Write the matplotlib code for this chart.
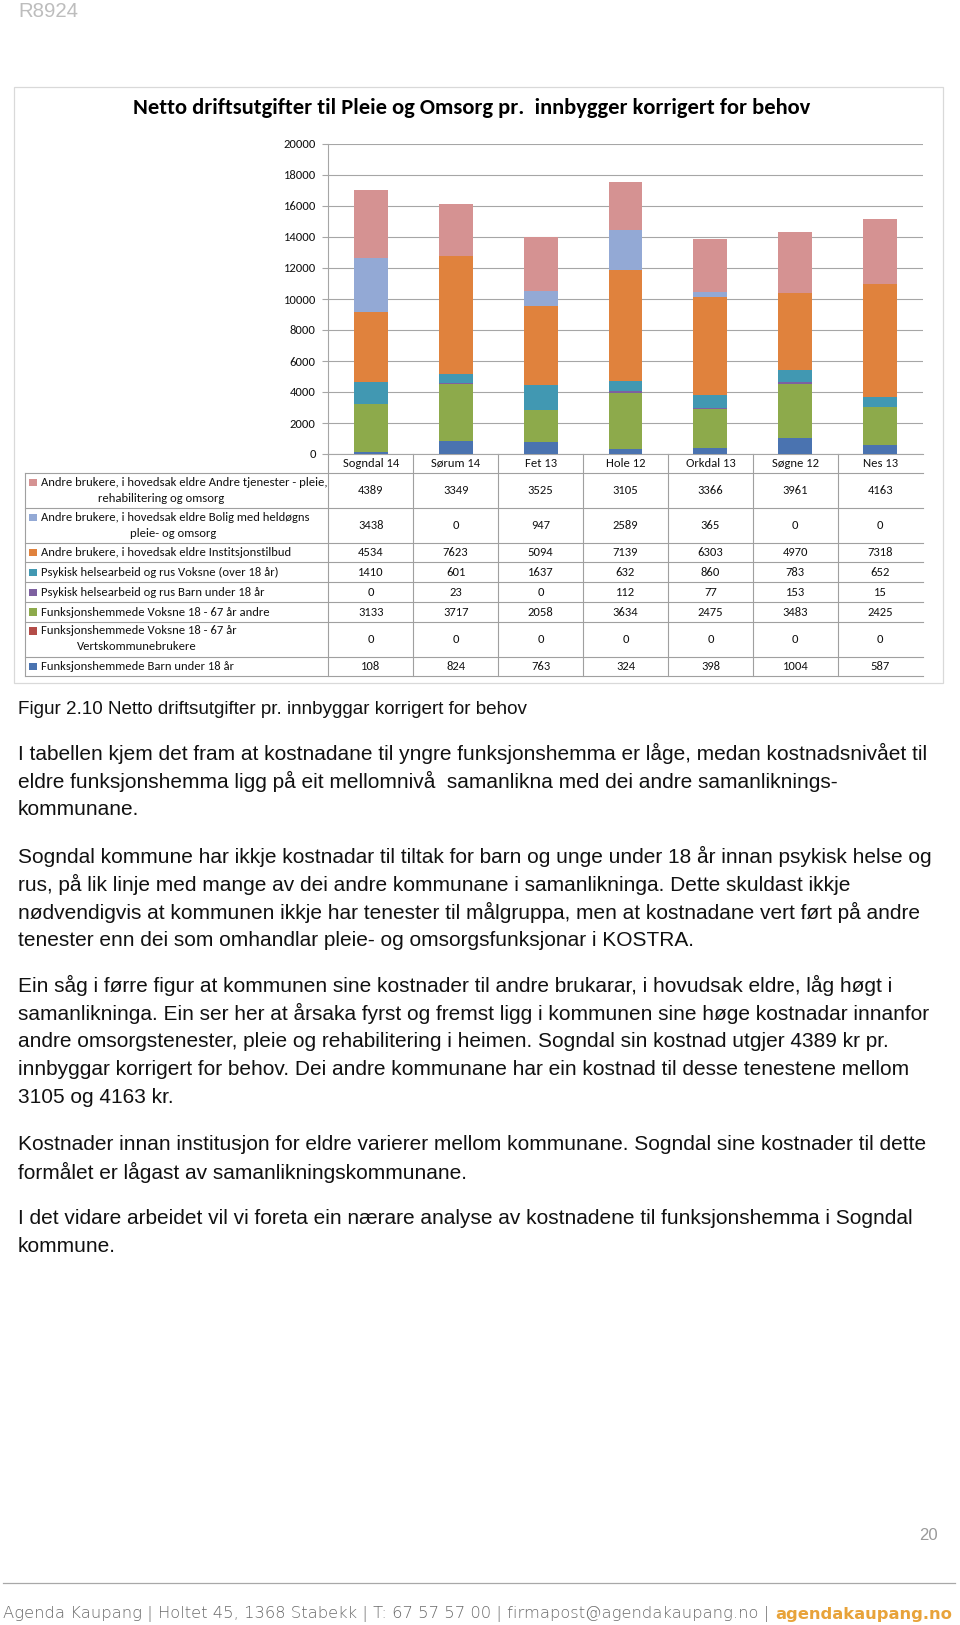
import matplotlib
matplotlib.use('Agg')
import matplotlib.pyplot as plt
from matplotlib import font_manager as fm
from matplotlib.patches import Rectangle

# ---------------- data ----------------
categories = ["Sogndal 14", "Sørum 14", "Fet 13", "Hole 12", "Orkdal 13", "Søgne 12", "Nes 13"]

andre_tjenester = [4389, 3349, 3525, 3105, 3366, 3961, 4163]
bolig = [3438, 0, 947, 2589, 365, 0, 0]
institusjon = [4534, 7623, 5094, 7139, 6303, 4970, 7318]
psyk_voksne = [1410, 601, 1637, 632, 860, 783, 652]
psyk_barn = [0, 23, 0, 112, 77, 153, 15]
funk_andre = [3133, 3717, 2058, 3634, 2475, 3483, 2425]
funk_verts = [0, 0, 0, 0, 0, 0, 0]
funk_barn = [108, 824, 763, 324, 398, 1004, 587]

# table order (top to bottom); label lines
series_labels = [
    ["Andre brukere, i hovedsak eldre Andre tjenester - pleie,", "rehabilitering og omsorg"],
    ["Andre brukere, i hovedsak eldre Bolig med heldøgns", "pleie- og omsorg"],
    ["Andre brukere, i hovedsak eldre Institsjonstilbud"],
    ["Psykisk helsearbeid og rus Voksne (over 18 år)"],
    ["Psykisk helsearbeid og rus Barn under 18 år"],
    ["Funksjonshemmede Voksne 18 - 67 år andre"],
    ["Funksjonshemmede Voksne 18 - 67 år", "Vertskommunebrukere"],
    ["Funksjonshemmede Barn under 18 år"],
]
series_values = [andre_tjenester, bolig, institusjon, psyk_voksne,
                 psyk_barn, funk_andre, funk_verts, funk_barn]
series_colors = ['#D59292', '#93A9D5', '#E0823D', '#4198B2',
                 '#7D60A0', '#8DAA4B', '#B34C48', '#4A73B0']

y_ticks = list(range(0, 20001, 2000))

title = "Netto driftsutgifter til Pleie og Omsorg pr.  innbygger korrigert for behov"
caption = "Figur 2.10 Netto driftsutgifter pr. innbyggar korrigert for behov"
paragraphs = [
    ["I tabellen kjem det fram at kostnadane til yngre funksjonshemma er låge, medan kostnadsnivået til",
     "eldre funksjonshemma ligg på eit mellomnivå  samanlikna med dei andre samanliknings-",
     "kommunane."],
    ["Sogndal kommune har ikkje kostnadar til tiltak for barn og unge under 18 år innan psykisk helse og",
     "rus, på lik linje med mange av dei andre kommunane i samanlikninga. Dette skuldast ikkje",
     "nødvendigvis at kommunen ikkje har tenester til målgruppa, men at kostnadane vert ført på andre",
     "tenester enn dei som omhandlar pleie- og omsorgsfunksjonar i KOSTRA."],
    ["Ein såg i førre figur at kommunen sine kostnader til andre brukarar, i hovudsak eldre, låg høgt i",
     "samanlikninga. Ein ser her at årsaka fyrst og fremst ligg i kommunen sine høge kostnadar innanfor",
     "andre omsorgstenester, pleie og rehabilitering i heimen. Sogndal sin kostnad utgjer 4389 kr pr.",
     "innbyggar korrigert for behov. Dei andre kommunane har ein kostnad til desse tenestene mellom",
     "3105 og 4163 kr."],
    ["Kostnader innan institusjon for eldre varierer mellom kommunane. Sogndal sine kostnader til dette",
     "formålet er lågast av samanlikningskommunane."],
    ["I det vidare arbeidet vil vi foreta ein nærare analyse av kostnadene til funksjonshemma i Sogndal",
     "kommune."],
]
footer_main = "Agenda Kaupang | Holtet 45, 1368 Stabekk | T: 67 57 57 00 | firmapost@agendakaupang.no | "
footer_bold = "agendakaupang.no"

# ---------------- fonts ----------------
def avail(name):
    try:
        fm.findfont(fm.FontProperties(family=name), fallback_to_default=False)
        return True
    except Exception:
        return False

CAL = next(f for f in ['Carlito', 'Lato', 'Open Sans', 'DejaVu Sans'] if avail(f))
ARIAL = next(f for f in ['Liberation Sans', 'Arial', 'DejaVu Sans'] if avail(f))
GOTH = next(f for f in ['DejaVu Sans', 'Lato'] if avail(f))

W, H = 960, 1625
fig = plt.figure(figsize=(9.6, 16.25), dpi=100)
fig.patch.set_facecolor('white')
page = fig.add_axes([0, 0, 1, 1])
page.set_xlim(0, W)
page.set_ylim(H, 0)
page.axis('off')
renderer = fig.canvas.get_renderer()
PXS = W / (fig.get_figwidth() * fig.dpi)


def fit(t, target):
    w = t.get_window_extent(renderer).width
    t.set_fontsize(t.get_fontsize() * target / w)
    return t.get_fontsize()


# ---------------- header text ----------------
t = page.text(18, 11.5, "R8924", fontsize=13, family=ARIAL, color='#bdbdbd', va='center', ha='left')
fit(t, 60)

# chart frame
page.add_patch(Rectangle((13.5, 87), 943 - 13.5, 683 - 87, fill=False, ec='#d9d9d9', lw=0.9))

t = page.text(472, 108, title, fontsize=15, family=CAL, weight='bold', color='black',
              ha='center', va='center')
fit(t, 678)

# ---------------- chart axes ----------------
AX_L, AX_R, AX_T, AX_B = 328.3, 922.7, 144, 454
ax = fig.add_axes([AX_L / W, 1 - AX_B / H, (AX_R - AX_L) / W, (AX_B - AX_T) / H])
ax.set_facecolor('none')
x = list(range(len(categories)))
bottom = [0] * len(categories)
for vals, col in zip(series_values[::-1], series_colors[::-1]):
    ax.bar(x, vals, 0.4, bottom=bottom, color=col, linewidth=0, zorder=3)
    bottom = [b + v for b, v in zip(bottom, vals)]
ax.set_xlim(-0.5, len(categories) - 0.5)
ax.set_ylim(0, 20000)
ax.set_yticks(y_ticks)
ax.set_xticks([])
ax.yaxis.grid(True, color='#a6a6a6', lw=0.8)
ax.set_axisbelow(True)
for s in ['top', 'right']:
    ax.spines[s].set_visible(False)
for s in ['left', 'bottom']:
    ax.spines[s].set_color('#a6a6a6')
    ax.spines[s].set_linewidth(0.8)

# table font size fitted on one label
probe = page.text(40.7, 552.3, series_labels[2][0], fontsize=8.5, family=CAL, va='center', ha='left')
ts = fit(probe, 247.7)
probe.remove()

ax.tick_params(axis='y', length=4, width=0.8, color='#a6a6a6', pad=5, labelsize=ts,
               labelcolor='#111111')
for lab in ax.get_yticklabels():
    lab.set_family(CAL)

# ---------------- data table ----------------
col_w = (AX_R - AX_L) / len(categories)
col_centers = [AX_L + col_w * (i + 0.5) for i in range(len(categories))]
row_bounds = [473.3, 508.3, 542.7, 562.3, 582.3, 602.3, 621.7, 656.7, 676]
line_c = '#a0a0a0'
TBL_L = 25.3
for yb in row_bounds:
    page.plot([TBL_L, AX_R], [yb, yb], color=line_c, lw=0.8)
page.plot([TBL_L, TBL_L], [row_bounds[0], row_bounds[-1]], color=line_c, lw=0.8)
for k in range(len(categories)):
    xb = AX_L + col_w * k
    page.plot([xb, xb], [AX_B, row_bounds[-1]], color=line_c, lw=0.8)

for i, c in enumerate(categories):
    page.text(col_centers[i], 463.3, c, fontsize=ts, family=CAL, ha='center', va='center',
              color='#111111')

second_line_x = {0: 161, 1: 173, 6: 137}
for r, (labels, vals, col) in enumerate(zip(series_labels, series_values, series_colors)):
    y0, y1 = row_bounds[r], row_bounds[r + 1]
    yc = (y0 + y1) / 2
    if len(labels) == 2:
        ly = [y0 + 9, y0 + 25]
    else:
        ly = [yc]
    page.add_patch(Rectangle((29, ly[0] - 3.8), 7.6, 7.6, color=col, lw=0))
    page.text(40.7, ly[0], labels[0], fontsize=ts, family=CAL, ha='left', va='center',
              color='#111111')
    if len(labels) == 2:
        page.text(second_line_x[r], ly[1], labels[1], fontsize=ts, family=CAL, ha='center',
                  va='center', color='#111111')
    for i, v in enumerate(vals):
        page.text(col_centers[i], yc, str(v), fontsize=ts, family=CAL, ha='center',
                  va='center', color='#111111')

# ---------------- caption & body ----------------
t = page.text(17.6, 709, caption, fontsize=12, family=ARIAL, ha='left', va='center', color='#111111')
fit(t, 514)

probe = page.text(17.6, 753.7, paragraphs[0][0], fontsize=14, family=ARIAL, ha='left', va='center')
bs = fit(probe, 912)
probe.remove()

para_tops = [753.7, 856.3, 985.9, 1144.5, 1218.1]
lh = 27.9
for top, lines in zip(para_tops, paragraphs):
    for j, line in enumerate(lines):
        page.text(17.6, top + j * lh, line, fontsize=bs, family=ARIAL, ha='left', va='center',
                  color='#111111')

# ---------------- footer ----------------
t = page.text(938, 1535, "20", fontsize=13, family=ARIAL, ha='right', va='center', color='#9a9a9a')
fit(t, 18.5)

page.plot([3, 955], [1583, 1583], color='#a8a8a8', lw=0.9)
t1 = page.text(3, 1614, footer_main, fontsize=10, family=GOTH, weight='light', ha='left',
               va='center', color='#6a6a6a')
t2 = page.text(500, 1614, footer_bold, fontsize=10, family=GOTH, weight='bold', ha='left',
               va='center', color='#E8A33A')
w1 = t1.get_window_extent(renderer).width * PXS
w2 = t2.get_window_extent(renderer).width * PXS
scale = (954 - 3) / (w1 + w2 + 1)
t1.set_fontsize(10 * scale)
t2.set_fontsize(10 * scale)
w1 = t1.get_window_extent(renderer).width * PXS
t2.set_x(3 + w1 + 1)

fig.savefig('out.png', dpi=100, facecolor='white')
